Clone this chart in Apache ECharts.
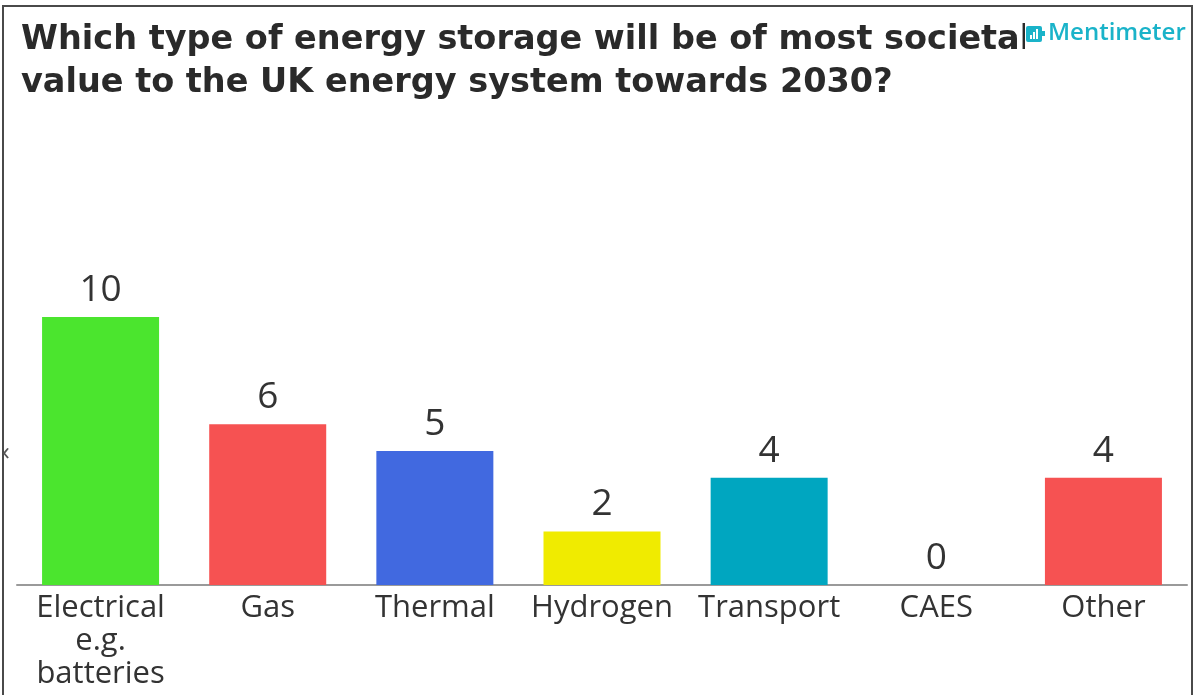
<!DOCTYPE html>
<html>
<head>
<meta charset="utf-8">
<script src="https://cdn.jsdelivr.net/npm/echarts@6/dist/echarts.min.js"></script>
<style>
html,body{margin:0;padding:0;background:#fff;}
#chart{width:1195px;height:695px;}
</style>
</head>
<body>
<div id="chart"></div>
<script>
const titleText = 'Which type of energy storage will be of most societal\nvalue to the UK energy system towards 2030?';
const categories = ['Electrical\ne.g.\nbatteries', 'Gas', 'Thermal', 'Hydrogen', 'Transport', 'CAES', 'Other'];
const values = [10, 6, 5, 2, 4, 0, 4];
const barColors = ['#4BE52E', '#F65252', '#4169E0', '#F0EB00', '#00A6C0', '#F65252', '#F65252'];

const chart = echarts.init(document.getElementById('chart'));
const FONT = '"Open Sans", "Noto Sans", sans-serif';
const TFONT = '"DejaVu Sans", sans-serif';
chart.setOption({
  backgroundColor: '#fff',
  animation: false,
  title: {
    text: titleText,
    left: 16,
    top: 14,
    textStyle: {
      fontFamily: TFONT,
      fontSize: 33.5,
      fontWeight: 'bold',
      color: '#2a2a2a',
      lineHeight: 43
    }
  },
  grid: { left: 17, right: 8, top: 263.4, bottom: 110, containLabel: false },
  xAxis: {
    type: 'category',
    data: categories,
    axisLine: { show: true, lineStyle: { color: '#9a9a9a', width: 2 } },
    axisTick: { show: false },
    axisLabel: {
      interval: 0,
      margin: 7,
      fontFamily: FONT,
      fontSize: 31,
      lineHeight: 33,
      color: '#333'
    }
  },
  yAxis: {
    type: 'value',
    min: 0,
    max: 12,
    show: false,
    splitLine: { show: false }
  },
  series: [{
    type: 'bar',
    barWidth: '70%',
    data: values.map((v, i) => ({ value: v, itemStyle: { color: barColors[i] } })),
    label: {
      show: true,
      position: 'top',
      distance: 8,
      fontFamily: FONT,
      fontSize: 37,
      color: '#333'
    }
  }],
  graphic: [
    { type: 'rect', shape: { x: 3, y: 6, width: 1189, height: 720 }, style: { fill: 'none', stroke: '#4a4a4a', lineWidth: 2 }, z: 100 },
    { type: 'text', left: 2, top: 440, style: { text: '‹', fontSize: 26, fill: '#555', fontFamily: FONT }, z: 100 },
    { type: 'rect', shape: { x: 1025, y: 18, width: 165, height: 36 }, style: { fill: '#fff' }, z: 101 },
    { type: 'rect', shape: { x: 1026, y: 26, width: 16, height: 16, r: 2 }, style: { fill: '#1AB3C9' }, z: 102 },
    { type: 'rect', shape: { x: 1042, y: 31, width: 3, height: 5 }, style: { fill: '#1AB3C9' }, z: 102 },
    { type: 'rect', shape: { x: 1030, y: 35, width: 2, height: 4 }, style: { fill: '#fff' }, z: 103 },
    { type: 'rect', shape: { x: 1033, y: 32, width: 2, height: 7 }, style: { fill: '#fff' }, z: 103 },
    { type: 'rect', shape: { x: 1036, y: 29, width: 2, height: 10 }, style: { fill: '#fff' }, z: 103 },
    { type: 'text', left: 1048, top: 21, style: { text: 'Mentimeter', fontSize: 24, fontWeight: 600, fill: '#1AB3C9', fontFamily: FONT }, z: 102 }
  ]
});
</script>
</body>
</html>
